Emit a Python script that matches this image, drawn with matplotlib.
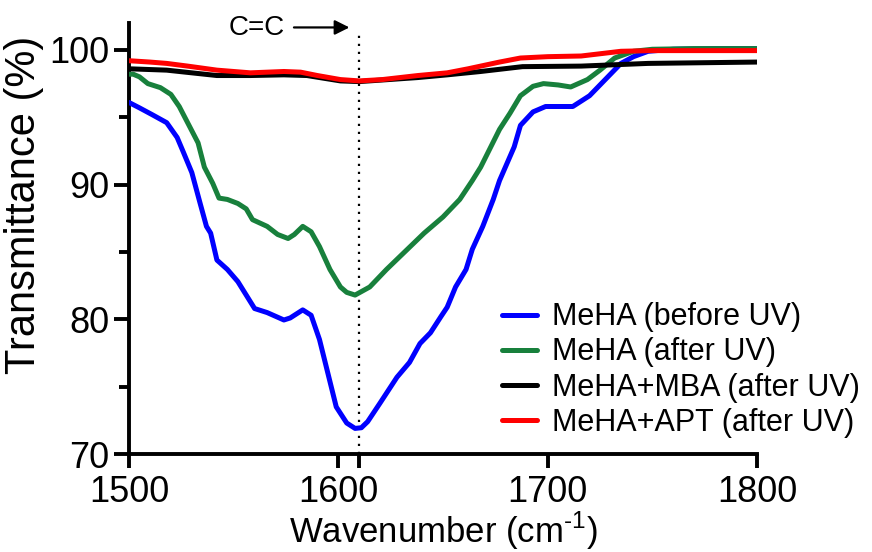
import matplotlib
matplotlib.use("Agg")
import matplotlib.pyplot as plt
from matplotlib.ticker import MultipleLocator

# ─────────────────────────────────────────────────────────────────────────────
# Data
# ─────────────────────────────────────────────────────────────────────────────
wn_blue = [1500, 1505, 1511, 1518, 1523, 1526, 1530, 1534, 1537, 1539, 1542,
           1547, 1552, 1556, 1560, 1566, 1574, 1577, 1583, 1587, 1591, 1595,
           1599, 1604, 1608, 1611, 1614, 1620, 1628, 1634, 1639, 1644, 1649,
           1652, 1656, 1661, 1664, 1669, 1674, 1677, 1684, 1687, 1693, 1699,
           1712, 1720, 1725, 1735, 1741, 1748, 1760, 1780, 1800]
T_blue = [96.1, 95.7, 95.2, 94.6, 93.5, 92.4, 90.9, 88.6, 86.9, 86.4, 84.4,
          83.7, 82.8, 81.8, 80.8, 80.5, 79.95, 80.1, 80.7, 80.3, 78.5, 76.0,
          73.5, 72.3, 71.9, 71.95, 72.4, 73.8, 75.7, 76.8, 78.2, 79.0, 80.2,
          80.9, 82.4, 83.7, 85.2, 86.9, 88.9, 90.3, 92.8, 94.4, 95.4, 95.8,
          95.8, 96.6, 97.4, 99.0, 99.5, 99.9, 100.05, 100.1, 100.1]

wn_green = [1500, 1502, 1505, 1509, 1515, 1520, 1524, 1529, 1533, 1536, 1540,
            1543, 1547, 1552, 1556, 1559, 1566, 1571, 1576, 1579, 1583, 1587,
            1591, 1596, 1601, 1604, 1608, 1615, 1623, 1633, 1641, 1650, 1658,
            1664, 1668, 1677, 1682, 1687, 1693, 1698, 1705, 1711, 1719, 1725,
            1732, 1741, 1750, 1770, 1800]
T_green = [98.2, 98.2, 98.0, 97.5, 97.2, 96.7, 95.8, 94.3, 93.1, 91.3, 90.1,
           89.0, 88.9, 88.6, 88.2, 87.4, 86.9, 86.3, 86.0, 86.3, 86.9, 86.5,
           85.4, 83.7, 82.4, 82.0, 81.8, 82.4, 83.7, 85.2, 86.4, 87.6, 88.9,
           90.3, 91.3, 94.1, 95.3, 96.6, 97.3, 97.5, 97.4, 97.25, 97.8, 98.5,
           99.4, 99.9, 100.05, 100.1, 100.1]

wn_black = [1500, 1518, 1542, 1558, 1574, 1585, 1601, 1610, 1638, 1652, 1668,
            1688, 1716, 1748, 1800]
T_black = [98.6, 98.5, 98.1, 98.1, 98.15, 98.1, 97.7, 97.65, 97.95, 98.15,
           98.4, 98.76, 98.8, 99.0, 99.1]

wn_red = [1500, 1510, 1518, 1528, 1542, 1558, 1574, 1582, 1590, 1601, 1610,
          1621, 1638, 1652, 1662, 1677, 1687, 1700, 1716, 1735, 1750, 1800]
T_red = [99.2, 99.1, 99.0, 98.8, 98.5, 98.3, 98.4, 98.35, 98.1, 97.8, 97.7,
         97.8, 98.1, 98.3, 98.6, 99.1, 99.4, 99.5, 99.55, 99.9, 99.95, 99.95]

labels = ["MeHA (before UV)", "MeHA (after UV)",
          "MeHA+MBA (after UV)", "MeHA+APT (after UV)"]
cc_peak = 1610  # C=C stretch marker

# ─────────────────────────────────────────────────────────────────────────────
# Style
# ─────────────────────────────────────────────────────────────────────────────
plt.rcParams.update({
    "font.family": ["Liberation Sans", "DejaVu Sans"],
    "mathtext.fontset": "custom",
    "mathtext.rm": "Liberation Sans",
    "axes.linewidth": 2.8,
    "xtick.major.width": 2.8,
    "ytick.major.width": 2.8,
    "ytick.minor.width": 2.8,
    "xtick.major.size": 10,
    "ytick.major.size": 11,
    "ytick.minor.size": 7,
})

fig = plt.figure(figsize=(8.72, 5.52), dpi=100)
ax = fig.add_axes([129 / 872, 98 / 552, 628 / 872, 431 / 552])

lw = 3.6
series = [
    (wn_blue, T_blue, "#0000ff"),
    (wn_green, T_green, "#18803c"),
    (wn_black, T_black, "#000000"),
    (wn_red, T_red, "#ff0000"),
]
for (x, y, col), lbl in zip(series, labels):
    ax.plot(x, y, color=col, lw=lw, label=lbl, solid_capstyle="round",
            solid_joinstyle="round", zorder=3)

ax.plot([cc_peak, cc_peak], [70, 101.25], color="k", lw=1.6,
        linestyle=(0, (1, 2.6)), zorder=2, clip_on=False)

ax.annotate("", xy=(1605.3, 101.67), xytext=(1578.8, 101.67),
            arrowprops=dict(arrowstyle="-|>", lw=1.6, color="k",
                            mutation_scale=22, shrinkA=0, shrinkB=0),
            annotation_clip=False)
ax.text(1561, 101.62, "C=C", ha="center", va="center", fontsize=20,
        clip_on=False)

ax.set_xlim(1500, 1800)
ax.set_ylim(70, 102)
ax.spines["top"].set_visible(False)
ax.spines["right"].set_visible(False)

ax.set_xticks([1500, 1600, 1610, 1700, 1800])
ax.set_xticklabels(["1500", "1600", "", "1700", "1800"])
ax.set_yticks([70, 80, 90, 100])
ax.yaxis.set_minor_locator(MultipleLocator(5))
ax.tick_params(axis="x", labelsize=26, pad=5)
ax.tick_params(axis="y", labelsize=26, pad=3)

ax.set_xlabel(r"Wavenumber (cm$^{\text{-}1}$)", fontsize=25, labelpad=0)
ax.set_ylabel("Transmittance (%)", fontsize=30)
ax.yaxis.set_label_coords(-0.135, 0.578)

ax.legend(loc="upper left", bbox_to_anchor=(0.594, 0.352), frameon=False,
          fontsize=22, handlelength=1.15, handletextpad=0.5,
          labelspacing=0.17, borderpad=0, borderaxespad=0)

fig.savefig("out.png", dpi=100)
